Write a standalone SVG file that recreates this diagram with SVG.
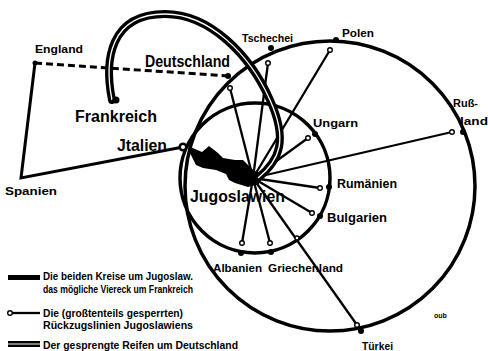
<svg xmlns="http://www.w3.org/2000/svg" width="488" height="351" viewBox="0 0 488 351">
<style>
.c{fill:none;stroke:#000;stroke-width:3.5}
.q{fill:none;stroke:#000;stroke-width:3}
.d{fill:none;stroke:#000;stroke-width:3;stroke-dasharray:7 4}
.r{fill:none;stroke:#000;stroke-width:2.3}
.e{fill:#fff;stroke:#000;stroke-width:1.4}
.dot{fill:#000}
text{font-family:"Liberation Sans",Arial,sans-serif;font-weight:bold;fill:#000}
.s{font-size:11px}
.m{font-size:12px}
.l{font-size:16px}
.g{font-size:10.5px}
</style>
<rect width="488" height="351" fill="#fff"/>
<g id="connectors">
<circle class="c" cx="330" cy="186" r="145"/>
<circle class="c" cx="255" cy="178" r="75"/>
<polyline class="q" points="35,63 21,178 183,147"/>
<line class="d" x1="35" y1="63" x2="228" y2="76"/>
<g class="r">
<line x1="253" y1="178" x2="230" y2="88"/>
<line x1="253" y1="178" x2="268" y2="63"/>
<line x1="253" y1="178" x2="330" y2="50"/>
<line x1="253" y1="178" x2="308" y2="138"/>
<line x1="253" y1="178" x2="452" y2="132"/>
<line x1="253" y1="178" x2="320" y2="188"/>
<line x1="253" y1="178" x2="312" y2="213"/>
<line x1="253" y1="178" x2="357" y2="325"/>
<line x1="253" y1="178" x2="270" y2="243"/>
<line x1="253" y1="178" x2="242" y2="243"/>
</g>
<path d="M188,146 L202,152 L209,146 L218,153 L223,158 L235,160 L243,160 L251,168 L259,174 L259,184 L248,187 L235,183 L229,180 L226,174 L216,170 L203,168 L196,165 L190,153 Z" fill="#000"/>
<ellipse cx="254" cy="177" rx="8" ry="6" fill="#000"/>
<path id="hook" d="M112,100 C104,60 110,14 165,14 C210,14 250,55 270,100 C288,140 280,160 258,178" fill="none" stroke="#000" stroke-width="8" stroke-linecap="round"/>
<path d="M112,100 C104,60 110,14 165,14 C210,14 250,55 270,100 C288,140 280,160 258,178" fill="none" stroke="#fff" stroke-width="1.3"/>
<circle cx="116" cy="100" r="3.5" fill="#000"/>
</g>
<g id="Italien"><circle cx="183" cy="147" r="4.5" fill="#000"/><circle cx="183" cy="147" r="2" fill="#fff"/><text class="l" x="117" y="151" textLength="50" lengthAdjust="spacingAndGlyphs">Jtalien</text></g>
<g id="England"><circle class="dot" cx="35" cy="63" r="2.5"/><text class="s" x="35" y="53" textLength="48" lengthAdjust="spacingAndGlyphs">England</text></g>
<g id="Spanien"><text class="s" x="5" y="195" textLength="52" lengthAdjust="spacingAndGlyphs">Spanien</text></g>
<g id="Frankreich"><text class="l" x="75" y="122" textLength="82" lengthAdjust="spacingAndGlyphs">Frankreich</text></g>
<g id="Deutschland"><circle class="dot" cx="228" cy="76" r="3"/><circle class="e" cx="230" cy="88" r="2.3"/><text class="l" x="145" y="67" textLength="85" lengthAdjust="spacingAndGlyphs">Deutschland</text></g>
<g id="Tschechei"><circle class="dot" cx="271" cy="48" r="3"/><circle class="e" cx="268" cy="63" r="2.3"/><text class="s" x="242" y="42" textLength="51" lengthAdjust="spacingAndGlyphs">Tschechei</text></g>
<g id="Polen"><circle class="dot" cx="336" cy="40" r="3"/><circle class="e" cx="330" cy="50" r="2.3"/><text class="s" x="342" y="37" textLength="32" lengthAdjust="spacingAndGlyphs">Polen</text></g>
<g id="Russland"><circle class="dot" cx="463" cy="132" r="3"/><circle class="e" cx="452" cy="132" r="2.3"/><text class="s" x="453" y="107" textLength="25" lengthAdjust="spacingAndGlyphs">Ruß-</text><text class="s" x="460" y="125" textLength="28" lengthAdjust="spacingAndGlyphs">land</text></g>
<g id="Ungarn"><circle class="dot" cx="315" cy="134" r="3"/><circle class="e" cx="308" cy="138" r="2.3"/><text class="s" x="313" y="127" textLength="45" lengthAdjust="spacingAndGlyphs">Ungarn</text></g>
<g id="Rumaenien"><circle class="dot" cx="329" cy="187" r="3"/><circle class="e" cx="320" cy="188" r="2.3"/><text class="m" x="337" y="188" textLength="60" lengthAdjust="spacingAndGlyphs">Rumänien</text></g>
<g id="Bulgarien"><circle class="dot" cx="320" cy="216" r="3"/><circle class="e" cx="312" cy="213" r="2.3"/><text class="m" x="327" y="222" textLength="60" lengthAdjust="spacingAndGlyphs">Bulgarien</text></g>
<g id="Tuerkei"><circle class="dot" cx="361" cy="331" r="3"/><circle class="e" cx="357" cy="325" r="2.3"/><circle class="e" cx="297" cy="238" r="2"/><text class="s" x="362" y="350" textLength="31" lengthAdjust="spacingAndGlyphs">Türkei</text></g>
<g id="Griechenland"><circle class="dot" cx="271" cy="252" r="3"/><circle class="e" cx="270" cy="243" r="2.3"/><text class="s" x="268" y="272" textLength="75" lengthAdjust="spacingAndGlyphs">Griechenland</text></g>
<g id="Albanien"><circle class="dot" cx="241" cy="253" r="3"/><circle class="e" cx="242" cy="243" r="2.3"/><text class="s" x="213" y="272" textLength="49" lengthAdjust="spacingAndGlyphs">Albanien</text></g>
<g id="Jugoslawien"><text x="190" y="202" font-size="17" textLength="95" lengthAdjust="spacingAndGlyphs">Jugoslawien</text></g>
<g id="signature"><text x="434" y="318" font-size="7">oub</text></g>
<g id="legend">
<rect x="8" y="275" width="32" height="5" fill="#000"/>
<text class="g" x="43" y="280" textLength="150" lengthAdjust="spacingAndGlyphs">Die beiden Kreise um Jugoslaw.</text>
<text class="g" x="43" y="293" textLength="150" lengthAdjust="spacingAndGlyphs">das mögliche Viereck um Frankreich</text>
<line x1="10" y1="313" x2="40" y2="313" stroke="#000" stroke-width="2.3"/>
<circle class="e" cx="10" cy="313" r="2.3"/>
<text class="g" x="43" y="317" textLength="140" lengthAdjust="spacingAndGlyphs">Die (großtenteils gesperrten)</text>
<text class="g" x="43" y="329" textLength="150" lengthAdjust="spacingAndGlyphs">Rückzugslinien Jugoslawiens</text>
<rect x="8" y="341" width="32" height="6" fill="#000"/>
<line x1="8" y1="344" x2="40" y2="344" stroke="#fff" stroke-width="1"/>
<text class="g" x="43" y="349" textLength="195" lengthAdjust="spacingAndGlyphs">Der gesprengte Reifen um Deutschland</text>
</g>
</svg>
